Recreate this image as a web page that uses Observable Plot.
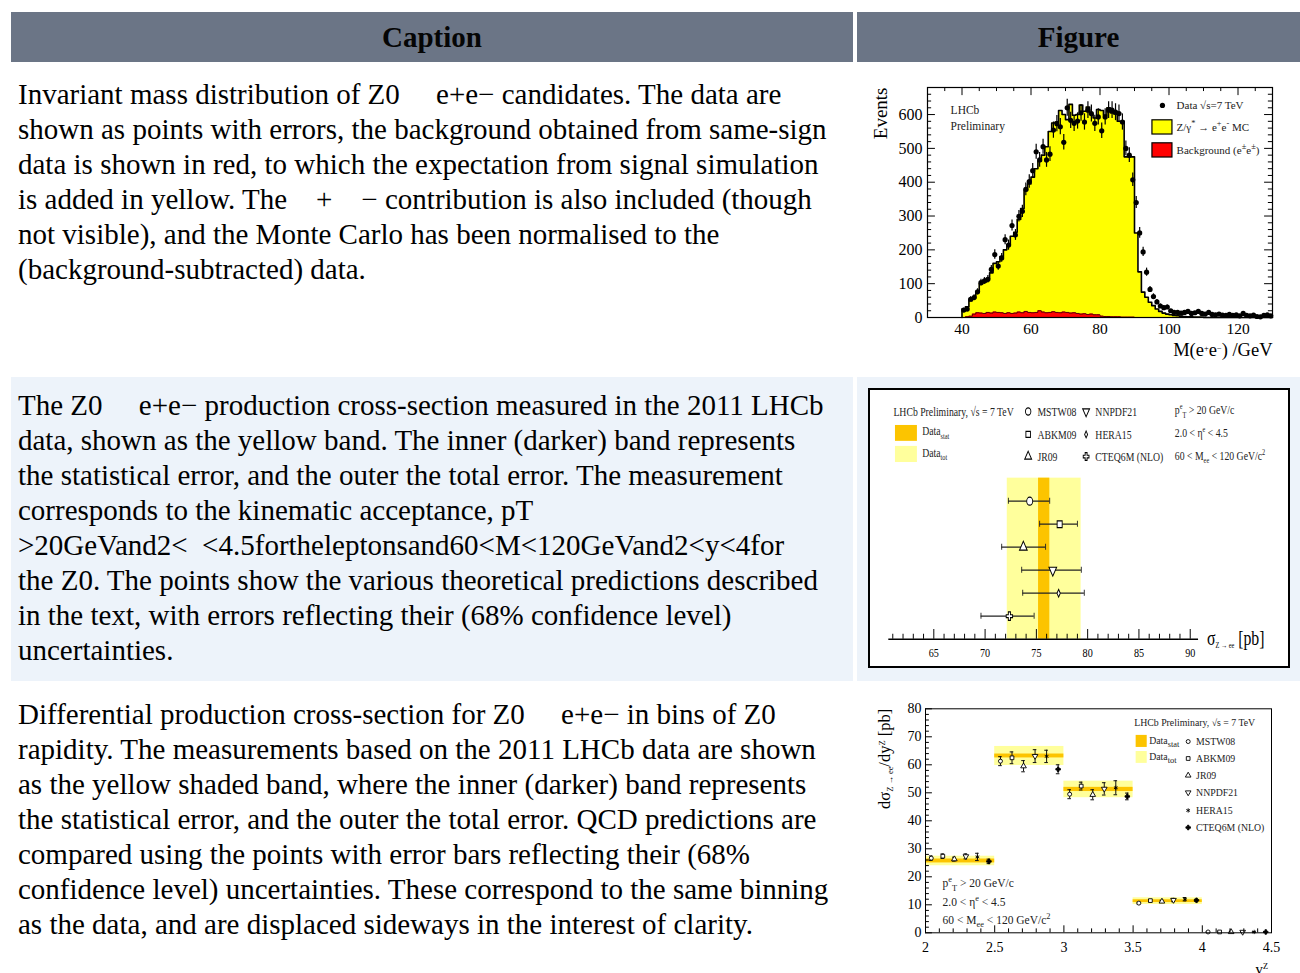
<!DOCTYPE html>
<html><head><meta charset="utf-8">
<script src="https://cdn.jsdelivr.net/npm/d3@7"></script>
<script src="https://cdn.jsdelivr.net/npm/@observablehq/plot@0.6"></script>
<style>
html,body{margin:0;padding:0;background:#fff;}
body{width:1300px;height:973px;overflow:hidden;position:relative;font-family:"Liberation Serif","Times New Roman",serif;color:#000;}
.c{position:absolute;box-sizing:border-box;}
.h{background:#6b7586;font-weight:bold;font-size:29px;display:flex;align-items:center;justify-content:center;color:#050505;}
.t{font-size:29px;line-height:35px;padding:11px 0 0 7px;white-space:pre;}
.blue{background:#edf3fa;}
.fig svg{display:block;overflow:visible;max-width:none !important;}
</style></head><body>
<div class="c h" style="left:11px;top:12px;width:842px;height:50px">Caption</div>
<div class="c h" style="left:857px;top:12px;width:443px;height:50px">Figure</div>

<div class="c t" style="left:11px;top:66px;width:842px;height:307px">Invariant mass distribution of Z0     e+e− candidates. The data are
shown as points with errors, the background obtained from same-sign
data is shown in red, to which the expectation from signal simulation
is added in yellow. The    +    − contribution is also included (though
not visible), and the Monte Carlo has been normalised to the
(background-subtracted) data.</div>
<div class="c fig" style="left:857px;top:66px;width:443px;height:307px"><div id="f1" style="position:absolute;left:5px;top:18px;width:418px"></div></div>

<div class="c t blue" style="left:11px;top:377px;width:842px;height:304px;padding-top:10.5px">The Z0     e+e− production cross-section measured in the 2011 LHCb
data, shown as the yellow band. The inner (darker) band represents
the statistical error, and the outer the total error. The measurement
corresponds to the kinematic acceptance, pT
&gt;20GeVand2&lt;  &lt;4.5fortheleptonsand60&lt;M&lt;120GeVand2&lt;y&lt;4for
the Z0. The points show the various theoretical predictions described
in the text, with errors reflecting their (68% confidence level)
uncertainties.</div>
<div class="c fig blue" style="left:857px;top:377px;width:443px;height:304px">
  <div style="position:absolute;left:11px;top:11px;width:422px;height:280px;box-sizing:border-box;border:2px solid #000;background:#fff;overflow:hidden">
    <div id="f2" style="position:absolute;left:0;top:0;width:557px;height:276px;transform:scaleX(0.75);transform-origin:0 0"></div>
  </div>
</div>

<div class="c t" style="left:11px;top:686px;width:842px;height:287px;padding-top:10.5px">Differential production cross-section for Z0     e+e− in bins of Z0
rapidity. The measurements based on the 2011 LHCb data are shown
as the yellow shaded band, where the inner (darker) band represents
the statistical error, and the outer the total error. QCD predictions are
compared using the points with error bars reflecting their (68%
confidence level) uncertainties. These correspond to the same binning
as the data, and are displaced sideways in the interest of clarity.</div>
<div class="c fig" style="left:857px;top:686px;width:443px;height:287px"><div id="f3" style="position:absolute;left:5px;top:10px;width:433px"></div></div>

<script>
// ---------------- Figure 1 : invariant mass ----------------
const massBins = d3.range(40, 130); // lower bin edges, 1 GeV wide
const mcTotal = [
 25,32,50,58,75,100,105,115,132,160,
 165,180,200,215,240,252,290,322,375,395,
 415,440,462,480,505,550,575,578,612,600,
 585,630,598,600,628,610,622,600,590,615,
 612,598,620,605,602,580,580,475,475,475,
 250,135,75,60,45,35,25,18,13,10,
 8,6,5,4,3,2,2,1,1,1,
 0,0,0,0,0,0,0,0,0,0,
 0,0,0,0,0,0,0,0,0,0];
const background = [
 0,2,4,10,14,13,12,15,13,16,
 15,14,12,14,12,13,16,14,18,15,
 14,15,20,16,14,15,17,15,14,16,
 15,13,14,12,10,11,9,10,8,8,
 4,3,3,2,2,2,1,1,1,1,
 0,0,0,0,0,0,0,0,0,0,
 0,0,0,0,0,0,0,0,0,0,
 0,0,0,0,0,0,0,0,0,0,
 0,0,0,0,0,0,0,0,0,0];
const dataCounts = [
 22,25,54,59,76,103,108,113,142,186,
 152,176,230,214,272,244,299,314,379,402,
 434,490,466,505,466,483,554,573,564,518,
 620,583,574,581,605,578,613,603,574,593,
 552,593,613,613,607,603,578,500,480,407,
 340,250,194,134,83,62,46,34,29,31,
 20,15,15,13,15,18,12,14,18,12,
 10,15,9,8,10,7,6,9,6,8,
 5,12,6,5,7,3,2,6,8,5];
const dataErrors = [
 5,5,7,8,9,10,10,11,12,14,
 12,13,15,15,16,16,17,18,19,20,
 21,22,22,22,22,22,24,24,24,23,
 25,24,24,24,25,24,25,25,24,24,
 23,24,25,25,25,25,24,22,22,20,
 18,16,14,12,9,8,7,6,5,6,
 4,4,4,4,4,4,3,4,4,3,
 3,4,3,3,3,3,2,3,2,3,
 2,3,2,2,3,2,1,2,3,2];
const massTicksMajor = [40,60,80,100,120];
const massTicksMinor = [30,35,45,50,55,65,70,75,85,90,95,105,110,115,125,130];
const eventTicksMajor = [0,100,200,300,400,500,600];
const eventTicksMinor = [20,40,60,80,120,140,160,180,220,240,260,280,320,340,360,380,420,440,460,480,520,540,560,580,620,640,660];

// ---------------- Figure 2 : total cross-section ----------------
const sigmaModels = ["MSTW08","ABKM09","JR09","NNPDF21","HERA15","CTEQ6M (NLO)"];
const sigmaValue = [74.35, 77.27, 73.73, 76.6, 77.17, 72.37];
const sigmaLow   = [72.27, 75.32, 71.62, 73.57, 73.67, 69.6];
const sigmaHigh  = [76.3, 79.0, 75.9, 79.38, 79.67, 74.78];
const sigmaData = 75.75, sigmaStat = 0.55, sigmaTot = 3.6;
const sigmaTicksMajor = [65,70,75,80,85,90];
const sigmaTicksMinor = [61,62,63,64,66,67,68,69,71,72,73,74,76,77,78,79,81,82,83,84,86,87,88,89];

// ---------------- Figure 3 : differential cross-section ----------------
const binLow  = [2.0, 2.5, 3.0, 3.5, 4.0];
const binHigh = [2.5, 3.0, 3.5, 4.0, 4.5];
const dsigData = [25.65, 63.15, 51.2, 11.3];
const dsigStat = [0.7, 0.7, 0.75, 0.5];
const dsigTot  = [1.7, 3.4, 2.95, 1.2];
const mstw08  = [26.65, 61.3, 49.5, 10.6, 0.3];
const abkm09  = [27.36, 62.5, 52.4, 11.5, 0.3];
const jr09    = [26.3, 59.5, 49.3, 11.2, 0.3];
const nnpdf21 = [27.3, 63.1, 51.4, 11.7, 0.3];
const hera15  = [27.1, 63.0, 51.8, 12.0, 0.3];
const cteq6m  = [25.5, 58.4, 48.7, 11.6, 0.3];
const mstw08Err  = [0.8, 1.6, 1.6, 0.3, 0.1];
const abkm09Err  = [0.8, 2.1, 1.4, 0.4, 0.1];
const jr09Err    = [0.7, 2.0, 1.8, 0.4, 0.1];
const nnpdf21Err = [0.9, 2.3, 2.2, 0.6, 0.1];
const hera15Err  = [1.3, 2.2, 2.5, 0.6, 0.1];
const cteq6mErr  = [0.8, 1.6, 1.2, 0.4, 0.1];
const rapTicksMajor = [2, 2.5, 3, 3.5, 4, 4.5];
const rapTicksMinor = [2.1,2.2,2.3,2.4,2.6,2.7,2.8,2.9,3.1,3.2,3.3,3.4,3.6,3.7,3.8,3.9,4.1,4.2,4.3,4.4];
const dsigTicksMajor = [0,10,20,30,40,50,60,70,80];
const dsigTicksMinor = [2,4,6,8,12,14,16,18,22,24,26,28,32,34,36,38,42,44,46,48,52,54,56,58,62,64,66,68,72,74,76,78];

// ---------------- helpers ----------------
const FONT = "Liberation Serif, Times New Roman, serif";
const STAT = "#fcc400", TOT = "#ffff9c";
const SVGNS = "http://www.w3.org/2000/svg";
const triDown = {draw(ctx, size){ const s3 = Math.sqrt(3); const y = -Math.sqrt(size/(s3*3)); ctx.moveTo(0, -y*2); ctx.lineTo(-s3*y, y); ctx.lineTo(s3*y, y); ctx.closePath(); }};

// turn _{..} and ^{..} into sub/superscript tspans
function rich(svg){
  svg.querySelectorAll("text").forEach(t => {
    const s = t.textContent;
    if (!/[_^]\{/.test(s)) return;
    const fs = parseFloat(getComputedStyle(t).fontSize) || 12;
    while (t.firstChild) t.removeChild(t.firstChild);
    const re = /([_^])\{([^}]*)\}|([^_^]+|[_^])/g;
    let m, shift = 0;
    while ((m = re.exec(s))) {
      const ts = document.createElementNS(SVGNS, "tspan");
      if (m[1]) {
        const d = m[1] === "_" ? fs*0.28 : -fs*0.42;
        ts.setAttribute("dy", d - shift); shift = d;
        ts.setAttribute("font-size", fs*0.7);
        ts.textContent = m[2];
      } else {
        if (shift) { ts.setAttribute("dy", -shift); shift = 0; }
        ts.textContent = m[3];
      }
      t.appendChild(ts);
    }
  });
  return svg;
}

// ---------------- draw Figure 1 ----------------
const stepPts = vals => [...massBins.map((x, i) => ({x, y: vals[i]})), {x: 130, y: vals[vals.length - 1]}];
const massPoints = massBins.map((x, i) => ({x: x + 0.5, n: dataCounts[i], e: dataErrors[i]}));
const f1 = Plot.plot({
  width: 418, height: 280, marginLeft: 65, marginRight: 8, marginTop: 3, marginBottom: 47,
  style: {fontFamily: FONT, color: "black", background: "transparent", overflow: "visible"},
  x: {domain: [30, 130]}, y: {domain: [0, 680]},
  marks: [
    Plot.areaY(stepPts(mcTotal), {x: "x", y: "y", curve: "step-after", fill: "#ffff00"}),
    Plot.areaY(stepPts(background), {x: "x", y: "y", curve: "step-after", fill: "#ff0000"}),
    Plot.line(stepPts(background), {x: "x", y: "y", curve: "step-after", stroke: "#5a0000", strokeWidth: 1}),
    Plot.line([{x: 40, y: 0}, ...stepPts(mcTotal)], {x: "x", y: "y", curve: "step-after", stroke: "black", strokeWidth: 1.6}),
    Plot.ruleX(massPoints, {x: "x", y1: d => d.n - d.e, y2: d => d.n + d.e, stroke: "black", strokeWidth: 1.2}),
    Plot.dot(massPoints, {x: "x", y: "n", r: 2.6, fill: "black"}),
    Plot.ruleX(massTicksMajor, {x: d => d, y1: 680, y2: 656, stroke: "black"}),
    Plot.ruleX(massTicksMinor, {x: d => d, y1: 680, y2: 668, stroke: "black"}),
    Plot.ruleY(eventTicksMajor, {y: d => d, x1: 30, x2: 32.3, stroke: "black"}),
    Plot.ruleY(eventTicksMinor, {y: d => d, x1: 30, x2: 31.2, stroke: "black"}),
    Plot.ruleY(eventTicksMajor, {y: d => d, x1: 130, x2: 127.7, stroke: "black"}),
    Plot.ruleY(eventTicksMinor, {y: d => d, x1: 130, x2: 128.8, stroke: "black"}),
    Plot.frame({stroke: "black", strokeWidth: 1.2}),
    Plot.axisY({ticks: eventTicksMajor, tickSize: 0, tickPadding: 5, fontSize: 16, label: null}),
    Plot.axisX({ticks: massTicksMajor, tickSize: 0, tickPadding: 5, fontSize: 15.5, label: null}),
    Plot.text(["Events"], {x: 16.6, y: 680, text: d => d, rotate: -90, textAnchor: "end", fontSize: 19}),
    Plot.text(["M(e^{+}e^{−}) /GeV"], {x: 130, y: -97, text: d => d, textAnchor: "end", fontSize: 18.5}),
    Plot.text(["LHCb"], {x: 36.7, y: 612, text: d => d, textAnchor: "start", fontSize: 11.5, fill: "#222"}),
    Plot.text(["Preliminary"], {x: 36.7, y: 565, text: d => d, textAnchor: "start", fontSize: 11.5, fill: "#222"}),
    Plot.dot([0], {x: 98.1, y: 627, r: 2.6, fill: "black"}),
    Plot.text(["Data √s=7 TeV"], {x: 102.2, y: 627, text: d => d, textAnchor: "start", fontSize: 11, fill: "#222"}),
    Plot.rect([0], {x1: 95.2, x2: 101, y1: 541, y2: 583, fill: "#ffff00", stroke: "black", strokeWidth: 1.2}),
    Plot.text(["Z/γ^{*} → e^{+}e^{-} MC"], {x: 102.2, y: 562, text: d => d, textAnchor: "start", fontSize: 11, fill: "#222"}),
    Plot.rect([0], {x1: 95.2, x2: 101, y1: 473, y2: 515, fill: "#ff0000", stroke: "black", strokeWidth: 1.2}),
    Plot.text(["Background (e^{±}e^{±})"], {x: 102.2, y: 494, text: d => d, textAnchor: "start", fontSize: 11, fill: "#222"})
  ]
});
document.getElementById("f1").append(rich(f1));

// ---------------- draw Figure 2 ----------------
const sigmaSymbols = ["circle", "square", "triangle", triDown, "diamond", "cross"];
const sigmaSizes = [4, 3.8, 3.8, 3.8, 2.3, 3.6];
const sigmaRows = sigmaModels.map((m, i) => ({
  model: m, v: sigmaValue[i], lo: sigmaLow[i], hi: sigmaHigh[i], row: 6 - i,
  lx: i < 3 ? 74.2 : 79.85, ly: [9.9, 8.9, 7.94][i % 3]
}));
const f2marks = [
  Plot.rect([0], {x1: sigmaData - sigmaTot, x2: sigmaData + sigmaTot, y1: 0, y2: 7, fill: TOT}),
  Plot.rect([0], {x1: sigmaData - sigmaStat, x2: sigmaData + sigmaStat, y1: 0, y2: 7, fill: STAT}),
  Plot.ruleY([0], {x1: 60.6, x2: 90.8, stroke: "black", strokeWidth: 1.6}),
  Plot.ruleX(sigmaTicksMajor, {x: d => d, y1: 0, y2: 0.42, stroke: "black", strokeWidth: 1.3}),
  Plot.ruleX(sigmaTicksMinor, {x: d => d, y1: 0, y2: 0.22, stroke: "black", strokeWidth: 1.3}),
  Plot.axisX({ticks: sigmaTicksMajor, tickSize: 0, tickPadding: 8, fontSize: 13.5, label: null}),
  Plot.ruleY(sigmaRows, {y: "row", x1: "lo", x2: "hi", stroke: "#222", strokeWidth: 1.2}),
  Plot.ruleX(sigmaRows, {x: "lo", y1: d => d.row - 0.13, y2: d => d.row + 0.13, stroke: "#222", strokeWidth: 1.2}),
  Plot.ruleX(sigmaRows, {x: "hi", y1: d => d.row - 0.13, y2: d => d.row + 0.13, stroke: "#222", strokeWidth: 1.2}),
  ...sigmaRows.map((d, i) => Plot.dot([d], {x: "v", y: "row", symbol: sigmaSymbols[i], r: sigmaSizes[i], fill: "white", stroke: "black", strokeWidth: 1.2})),
  ...sigmaRows.map((d, i) => Plot.dot([d], {x: "lx", y: "ly", symbol: sigmaSymbols[i], r: sigmaSizes[i] * 0.9, fill: "white", stroke: "black", strokeWidth: 1.2})),
  Plot.text(sigmaRows, {x: d => d.lx + 0.9, y: "ly", text: "model", textAnchor: "start", fontSize: 13, fill: "#222"}),
  Plot.text(["LHCb Preliminary, √s = 7 TeV"], {x: 61.06, y: 9.9, text: d => d, textAnchor: "start", fontSize: 13, fill: "#222"}),
  Plot.rect([0], {x1: 61.25, x2: 63.39, y1: 8.6, y2: 9.29, fill: STAT}),
  Plot.rect([0], {x1: 61.25, x2: 63.39, y1: 7.68, y2: 8.38, fill: TOT}),
  Plot.text(["Data_{stat}"], {x: 63.87, y: 9.05, text: d => d, textAnchor: "start", fontSize: 13, fill: "#222"}),
  Plot.text(["Data_{tot}"], {x: 63.87, y: 8.12, text: d => d, textAnchor: "start", fontSize: 13, fill: "#222"}),
  Plot.text(["p^{e}_{T} > 20 GeV/c"], {x: 88.5, y: 9.95, text: d => d, textAnchor: "start", fontSize: 13, fill: "#222"}),
  Plot.text(["2.0 < η^{e} < 4.5"], {x: 88.5, y: 8.95, text: d => d, textAnchor: "start", fontSize: 13, fill: "#222"}),
  Plot.text(["60 < M_{ee} < 120 GeV/c^{2}"], {x: 88.5, y: 7.98, text: d => d, textAnchor: "start", fontSize: 13, fill: "#222"}),
  Plot.text(["σ_{Z → ee} [pb]"], {x: 91.63, y: 0.05, text: d => d, textAnchor: "start", fontSize: 21})
];
const f2 = Plot.plot({
  width: 557, height: 276, marginLeft: 24.4, marginRight: 119.6, marginTop: 0, marginBottom: 27.3,
  style: {fontFamily: FONT, color: "black", background: "transparent", overflow: "visible"},
  x: {domain: [60.6, 90.8]}, y: {domain: [0, 10.81], axis: null},
  marks: f2marks
});
document.getElementById("f2").append(rich(f2));

// ---------------- draw Figure 3 ----------------
const modelNames = ["MSTW08","ABKM09","JR09","NNPDF21","HERA15","CTEQ6M (NLO)"];
const modelVals = [mstw08, abkm09, jr09, nnpdf21, hera15, cteq6m];
const modelErrs = [mstw08Err, abkm09Err, jr09Err, nnpdf21Err, hera15Err, cteq6mErr];
const modelStyle = [
  {symbol: "circle", r: 2.0, fill: "white", stroke: "black"},
  {symbol: "square", r: 2.1, fill: "white", stroke: "black"},
  {symbol: "triangle", r: 2.1, fill: "white", stroke: "black"},
  {symbol: triDown, r: 2.1, fill: "white", stroke: "black"},
  {symbol: "asterisk", r: 2.0, fill: "none", stroke: "black"},
  {symbol: "cross", r: 1.9, fill: "black", stroke: "black"}
];
const dsigBands = dsigData.map((v, i) => ({lo: binLow[i], hi: binHigh[i], v, s: dsigStat[i], t: dsigTot[i]}));
const predPoints = modelVals.flatMap((vals, k) => vals.map((v, b) => ({
  k, x: binLow[b] + (k + 0.5) * (binHigh[b] - binLow[b]) / 6, v, e: modelErrs[k][b]
})));
const legend3 = modelNames.map((m, k) => ({m, k, y: [68.3, 62.25, 56.2, 50.1, 43.7, 37.6][k]}));
const f3 = Plot.plot({
  width: 433, height: 290, marginLeft: 63, marginRight: 24, marginTop: 12.3, marginBottom: 53.7,
  style: {fontFamily: FONT, color: "black", background: "transparent", overflow: "visible"},
  x: {domain: [2, 4.5]}, y: {domain: [0, 80]},
  marks: [
    Plot.rect(dsigBands, {x1: "lo", x2: "hi", y1: d => d.v - d.t, y2: d => d.v + d.t, fill: TOT}),
    Plot.rect(dsigBands, {x1: "lo", x2: "hi", y1: d => d.v - d.s, y2: d => d.v + d.s, fill: STAT}),
    Plot.ruleX(predPoints, {x: "x", y1: d => d.v - d.e, y2: d => d.v + d.e, stroke: "#111", strokeWidth: 1}),
    Plot.ruleY(predPoints, {y: d => d.v - d.e, x1: d => d.x - 0.013, x2: d => d.x + 0.013, stroke: "#111", strokeWidth: 1}),
    Plot.ruleY(predPoints, {y: d => d.v + d.e, x1: d => d.x - 0.013, x2: d => d.x + 0.013, stroke: "#111", strokeWidth: 1}),
    ...modelStyle.map((st, k) => Plot.dot(predPoints.filter(d => d.k === k), {x: "x", y: "v", ...st, strokeWidth: 0.9})),
    Plot.ruleX(rapTicksMajor, {x: d => d, y1: 0, y2: 2.5, stroke: "black"}),
    Plot.ruleX(rapTicksMinor, {x: d => d, y1: 0, y2: 1.4, stroke: "black"}),
    Plot.ruleY(dsigTicksMajor, {y: d => d, x1: 2, x2: 2.05, stroke: "black"}),
    Plot.ruleY(dsigTicksMinor, {y: d => d, x1: 2, x2: 2.028, stroke: "black"}),
    Plot.frame({stroke: "black", strokeWidth: 1}),
    Plot.axisY({ticks: dsigTicksMajor, tickSize: 0, tickPadding: 4, fontSize: 14, label: null}),
    Plot.axisX({ticks: rapTicksMajor, tickSize: 0, tickPadding: 9, fontSize: 14, label: null, tickFormat: d => String(d)}),
    Plot.text(["dσ_{Z → ee}/dy^{Z} [pb]"], {x: 1.705, y: 80, text: d => d, rotate: -90, textAnchor: "end", fontSize: 16.5}),
    Plot.text(["y^{Z}"], {x: 4.475, y: -13, text: d => d, textAnchor: "end", fontSize: 15.5}),
    Plot.text(["LHCb Preliminary, √s = 7 TeV"], {x: 3.508, y: 75.1, text: d => d, textAnchor: "start", fontSize: 9.8, fill: "#222"}),
    Plot.rect([0], {x1: 3.522, x2: 3.602, y1: 66.2, y2: 70.5, fill: STAT}),
    Plot.rect([0], {x1: 3.522, x2: 3.602, y1: 60.5, y2: 64.75, fill: TOT}),
    Plot.text(["Data_{stat}"], {x: 3.616, y: 68.6, text: d => d, textAnchor: "start", fontSize: 9.8, fill: "#222"}),
    Plot.text(["Data_{tot}"], {x: 3.616, y: 62.9, text: d => d, textAnchor: "start", fontSize: 9.8, fill: "#222"}),
    ...modelStyle.map((st, k) => Plot.dot([legend3[k]], {x: 3.898, y: "y", ...st, strokeWidth: 0.9})),
    Plot.text(legend3, {x: 3.955, y: "y", text: "m", textAnchor: "start", fontSize: 9.8, fill: "#222"}),
    Plot.text(["p^{e}_{T} > 20 GeV/c"], {x: 2.123, y: 17.5, text: d => d, textAnchor: "start", fontSize: 11.5, fill: "#222"}),
    Plot.text(["2.0 < η^{e} < 4.5"], {x: 2.123, y: 11.0, text: d => d, textAnchor: "start", fontSize: 11.5, fill: "#222"}),
    Plot.text(["60 < M_{ee} < 120 GeV/c^{2}"], {x: 2.123, y: 4.6, text: d => d, textAnchor: "start", fontSize: 11.5, fill: "#222"})
  ]
});
document.getElementById("f3").append(rich(f3));
</script>
</body></html>
